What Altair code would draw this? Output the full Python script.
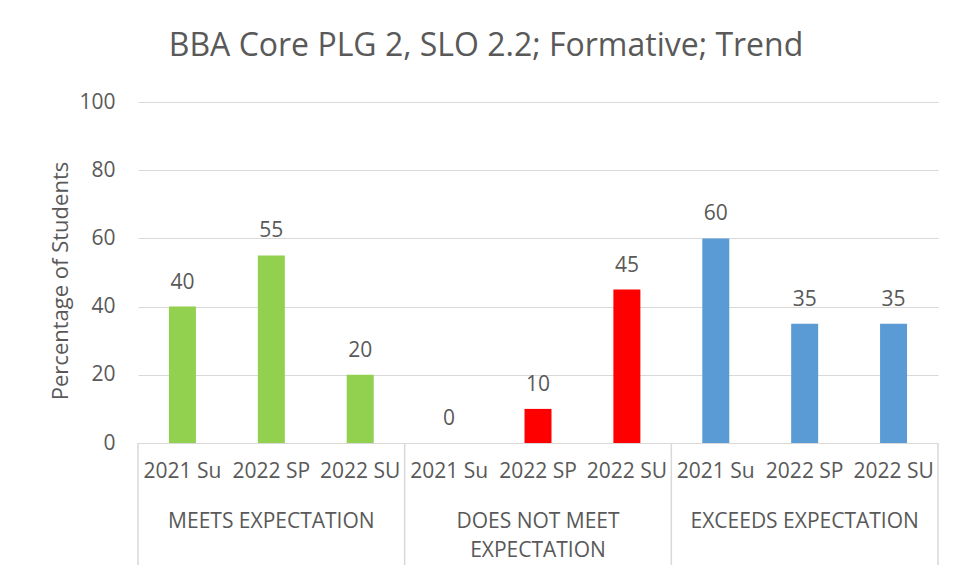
import altair as alt
import pandas as pd

groups = ["MEETS EXPECTATION", "DOES NOT MEET EXPECTATION", "EXCEEDS EXPECTATION"]
group_lines = [["MEETS EXPECTATION"], ["DOES NOT MEET", "EXPECTATION"], ["EXCEEDS EXPECTATION"]]
periods = ["2021 Su", "2022 SP", "2022 SU"]
meets = [40, 55, 20]
not_meet = [0, 10, 45]
exceeds = [60, 35, 35]
colors = ["#92D050", "#FF0000", "#5B9BD5"]

series = [meets, not_meet, exceeds]
rows = []
for gi, g in enumerate(groups):
    for pi, p in enumerate(periods):
        rows.append({"group": g, "period": p, "value": series[gi][pi],
                     "pos": gi * len(periods) + pi + 0.5})
df = pd.DataFrame(rows)

seps = pd.DataFrame({"sep": [i * len(periods) for i in range(len(groups) + 1)]})
glab = pd.DataFrame({"label": group_lines,
                     "center": [gi * len(periods) + len(periods) / 2 for gi in range(len(groups))]})

W, H = 800, 341
FONT = "Open Sans"
TXT = "#595959"
n = len(groups) * len(periods)

xs = alt.Scale(domain=[0, n], nice=False, zero=False, padding=0)
xq = alt.X("pos:Q", scale=xs, axis=None)

bars = alt.Chart(df).mark_bar(size=27, orient="vertical").encode(
    x=xq,
    y=alt.Y("value:Q", scale=alt.Scale(domain=[0, 100]),
            axis=alt.Axis(values=[0, 20, 40, 60, 80, 100], grid=True, gridColor="#D9D9D9",
                          domain=False, ticks=False, labelPadding=23, labelFontSize=21,
                          labelColor=TXT, labelFont=FONT,
                          title="Percentage of Students", titleFontSize=22,
                          titleFontWeight="normal", titleColor=TXT, titleFont=FONT,
                          titlePadding=6, titleY=H / 2 + 8)),
    color=alt.Color("group:N", scale=alt.Scale(domain=groups, range=colors), legend=None),
)

vals = alt.Chart(df).mark_text(dy=-18, baseline="alphabetic", fontSize=21, font=FONT, color=TXT).encode(
    x=xq, y="value:Q", text="value:Q")

sub = alt.Chart(df).mark_text(baseline="middle", fontSize=21, font=FONT, color=TXT).encode(
    x=xq, y=alt.value(H + 29), text="period:N")

sep_rules = alt.Chart(seps).mark_rule(color="#D9D9D9", strokeWidth=1.5).encode(
    x=alt.X("sep:Q", scale=xs, axis=None), y=alt.value(H), y2=alt.value(H + 122))

grp = alt.Chart(glab).mark_text(baseline="alphabetic", fontSize=21, font=FONT, color=TXT,
                                lineHeight=29).encode(
    x=alt.X("center:Q", scale=xs, axis=None), y=alt.value(H + 85), text="label")

chart = alt.layer(sep_rules, bars, vals, sub, grp).properties(
    width=W, height=H,
    background="white",
    title=alt.TitleParams("BBA Core PLG 2, SLO 2.2; Formative; Trend", fontSize=32,
                          font=FONT, fontWeight="normal", color=TXT, dx=-52, offset=28),
    autosize=alt.AutoSizeParams(type="none"),
    padding={"left": 130, "top": 94, "right": 14, "bottom": 124},
).configure_view(stroke=None)

chart.save("out.html", embed_options={"renderer": "svg", "actions": False})
